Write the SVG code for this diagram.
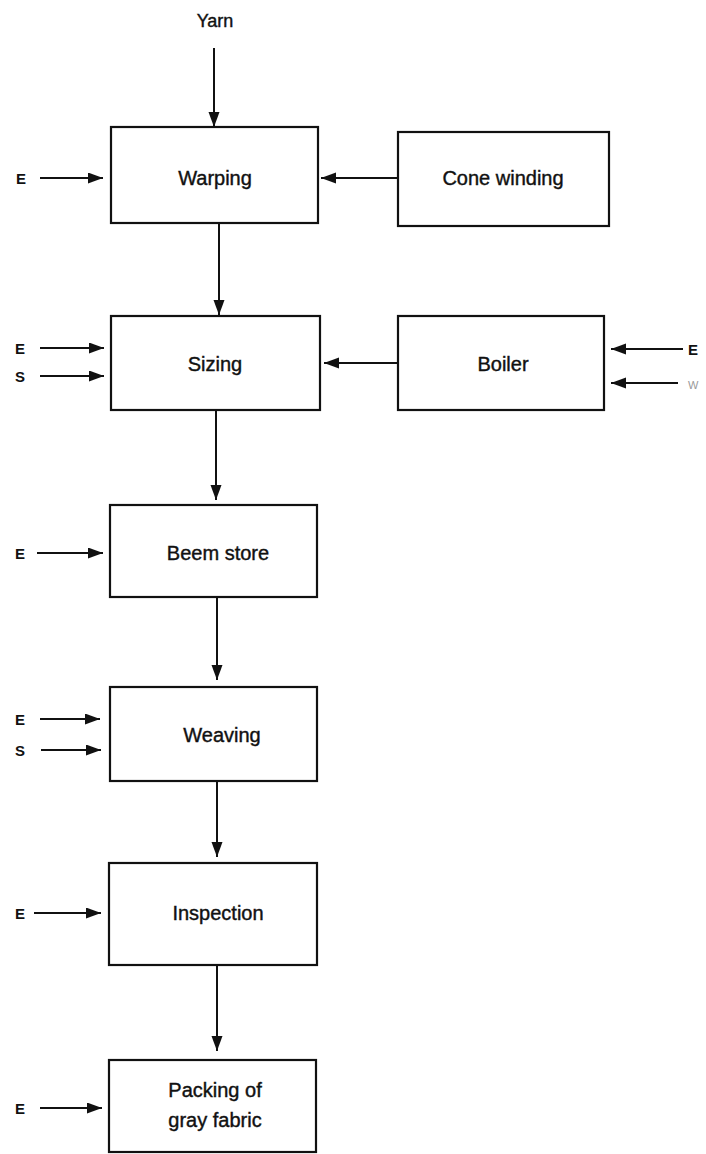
<svg xmlns="http://www.w3.org/2000/svg" width="706" height="1154" viewBox="0 0 706 1154">
  <style>
    .box { fill: #fff; stroke: #111; stroke-width: 2.2; }
    .lbl { font-family: "Liberation Sans", Arial, sans-serif; font-size: 20px; fill: #111; stroke: #111; stroke-width: 0.4; text-anchor: middle; }
    .io { font-family: "Liberation Sans", Arial, sans-serif; font-size: 15px; font-weight: bold; fill: #111; }
    .ln { stroke: #111; stroke-width: 2; fill: none; marker-end: url(#ah); }
  </style>
  <defs>
    <marker id="ah" markerUnits="userSpaceOnUse" markerWidth="16" markerHeight="12" refX="15" refY="5.5" orient="auto">
      <path d="M0,0 L15,5.5 L0,11 z" fill="#111"/>
    </marker>
  </defs>
  <rect width="706" height="1154" fill="#fff"/>

  <g id="connectors">
    <!-- yarn feed -->
    <line class="ln" x1="214" y1="48" x2="214" y2="127"/>
    <!-- main process chain -->
    <line class="ln" x1="219" y1="223" x2="219" y2="315"/>
    <line class="ln" x1="216" y1="410" x2="216" y2="500"/>
    <line class="ln" x1="217" y1="597" x2="217" y2="680"/>
    <line class="ln" x1="217" y1="781" x2="217" y2="857"/>
    <line class="ln" x1="217" y1="965" x2="217" y2="1051"/>
    <!-- side feeds -->
    <line class="ln" x1="397" y1="178" x2="321" y2="178"/>
    <line class="ln" x1="397" y1="363" x2="324" y2="363"/>
    <!-- utility inputs -->
    <line class="ln" x1="40" y1="178" x2="103" y2="178"/>
    <line class="ln" x1="40" y1="348" x2="104" y2="348"/>
    <line class="ln" x1="40" y1="376" x2="104" y2="376"/>
    <line class="ln" x1="683" y1="349" x2="611" y2="349"/>
    <line class="ln" x1="678" y1="383" x2="611" y2="383"/>
    <line class="ln" x1="37" y1="553" x2="103" y2="553"/>
    <line class="ln" x1="40" y1="719" x2="100" y2="719"/>
    <line class="ln" x1="41" y1="750" x2="101" y2="750"/>
    <line class="ln" x1="34" y1="913" x2="101" y2="913"/>
    <line class="ln" x1="40" y1="1108" x2="102" y2="1108"/>
  </g>

  <g id="labels">
    <text class="lbl" x="215" y="27" style="font-size:18px">Yarn</text>
    <text class="io" x="16" y="184">E</text>
    <text class="io" x="15" y="354">E</text>
    <text class="io" x="15" y="382">S</text>
    <text class="io" x="688" y="355">E</text>
    <text class="io" x="688" y="389" style="font-size:11px;font-weight:normal;fill:#999">W</text>
    <text class="io" x="15" y="559">E</text>
    <text class="io" x="15" y="725">E</text>
    <text class="io" x="15" y="756">S</text>
    <text class="io" x="15" y="919">E</text>
    <text class="io" x="15" y="1114">E</text>
  </g>

  <g id="warping">
    <rect class="box" x="111" y="127" width="207" height="96"/>
    <text class="lbl" x="215" y="185">Warping</text>
  </g>
  <g id="cone-winding">
    <rect class="box" x="398" y="132" width="211" height="94"/>
    <text class="lbl" x="503" y="185">Cone winding</text>
  </g>
  <g id="sizing">
    <rect class="box" x="111" y="316" width="209" height="94"/>
    <text class="lbl" x="215" y="371">Sizing</text>
  </g>
  <g id="boiler">
    <rect class="box" x="398" y="316" width="206" height="94"/>
    <text class="lbl" x="503" y="371">Boiler</text>
  </g>
  <g id="beem-store">
    <rect class="box" x="110" y="505" width="207" height="92"/>
    <text class="lbl" x="218" y="560">Beem store</text>
  </g>
  <g id="weaving">
    <rect class="box" x="110" y="687" width="207" height="94"/>
    <text class="lbl" x="222" y="742">Weaving</text>
  </g>
  <g id="inspection">
    <rect class="box" x="109" y="863" width="208" height="102"/>
    <text class="lbl" x="218" y="920">Inspection</text>
  </g>
  <g id="packing">
    <rect class="box" x="109" y="1060" width="207" height="92"/>
    <text class="lbl" x="215" y="1097">Packing of</text>
    <text class="lbl" x="215" y="1127">gray fabric</text>
  </g>
</svg>
